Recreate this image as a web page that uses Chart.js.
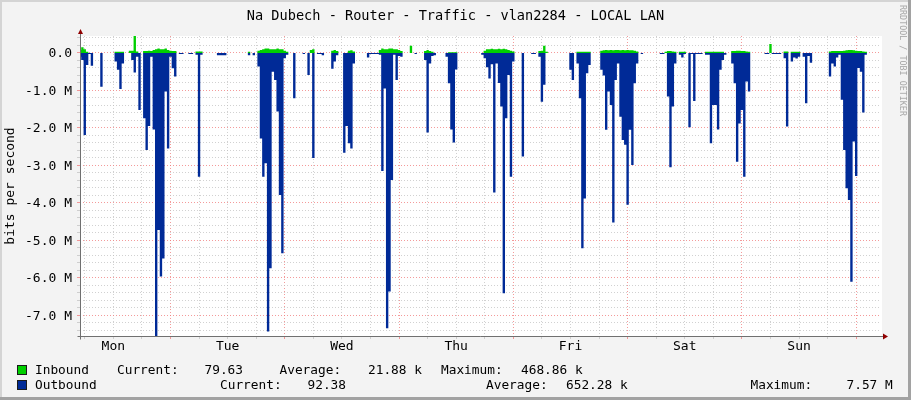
<!DOCTYPE html>
<html>
<head>
<meta charset="utf-8">
<title>Na Dubech - Router - Traffic - vlan2284</title>
<script src="https://cdn.jsdelivr.net/npm/chart.js@4.4.0/dist/chart.umd.min.js"></script>
<style>
  html, body { margin: 0; padding: 0; background: #f3f3f3; }
  #wrap { position: relative; width: 911px; height: 400px; overflow: hidden;
          font-family: 'DejaVu Sans Mono', monospace; }
  #chart { position: absolute; left: 0; top: 0; }
  #title { position: absolute; left: 0; top: 6.6px; width: 911px; text-align: center;
           font-size: 13.6px; line-height: 16px; color: #000; white-space: pre; }
  .lg { position: absolute; font-size: 12.8px; line-height: 15px; color: #000; white-space: pre; }
  .sw { position: absolute; width: 8px; height: 8px; border: 1px solid #1a1a1a; }
  #mark { position: absolute; left: 908px; top: 5px; transform-origin: 0 0; transform: rotate(90deg);
          font-size: 8.4px; line-height: 10px; color: #a6a6a6; white-space: pre; }
  .edge { position: absolute; }
</style>
</head>
<body>
<div id="wrap">
  <canvas id="chart" width="911" height="400"></canvas>
  <div id="title"></div>
  <div id="legend"></div>
  <div id="mark">RRDTOOL / TOBI OETIKER</div>
  <div class="edge" style="left:0;top:0;width:911px;height:2px;background:#d4d4d4"></div>
  <div class="edge" style="left:0;top:0;width:2px;height:400px;background:#d4d4d4"></div>
  <div class="edge" style="left:0;top:397px;width:911px;height:3px;background:#a2a2a2"></div>
  <div class="edge" style="left:908px;top:0;width:3px;height:400px;background:#a2a2a2"></div>
</div>
<script>
// text
const chartTitle = 'Na Dubech - Router - Traffic - vlan2284 - LOCAL LAN';
const yAxisTitle = 'bits per second';
const dayLabels = ['Mon', 'Tue', 'Wed', 'Thu', 'Fri', 'Sat', 'Sun'];
const seriesNames = ['Inbound', 'Outbound'];
const seriesColors = ['#00CF00', '#002A97'];

// legend figures: current, average, maximum
const inboundStats = ['79.63', '21.88 k', '468.86 k'];
const outboundStats = ['92.38', '652.28 k', '7.57 M'];

// time axis, hours after Monday 00:00
const startHour = 5;     // first sample
const stepHours = 0.5;   // one sample every 30 minutes
const xMin = 5, xMax = 173;
const xGridStep = 6;     // grid every 6 h, red line at midnight, label at noon

// value axis, Mbit/s (outbound is mirrored below zero)
const yMin = -7.5467, yMax = 0.4533;
const yGridStep = 0.2;   // grid every 0.2 M, red line and label every 1 M

// samples in Mbit/s, 12 per row = 6 hours
const inbound = [
  0.08, 0.15, 0.1, 0.03, 0, 0, 0, 0, 0, 0, 0, 0,
  0, 0, 0, 0.03, 0.03, 0.03, 0.03, 0, 0, 0.06, 0.06, 0.46,
  0.04, 0, 0, 0.05, 0.05, 0.06, 0.05, 0.08, 0.1, 0.12, 0.1, 0.1,
  0.12, 0.08, 0.06, 0.05, 0.05, 0, 0, 0, 0, 0, 0, 0,
  0, 0.04, 0.04, 0.04, 0, 0, 0, 0, 0, 0, 0, 0,
  0, 0, 0, 0, 0, 0, 0, 0, 0, 0, 0, 0.03,
  0, 0, 0, 0.06, 0.08, 0.1, 0.12, 0.12, 0.1, 0.1, 0.1, 0.12,
  0.1, 0.1, 0.06, 0.03, 0, 0, 0, 0, 0, 0, 0, 0,
  0, 0.08, 0.1, 0, 0, 0, 0, 0, 0, 0, 0.06, 0.08,
  0.05, 0, 0, 0, 0, 0.06, 0.07, 0.04, 0, 0, 0, 0,
  0, 0, 0, 0, 0, 0, 0.08, 0.12, 0.1, 0.1, 0.12, 0.12,
  0.1, 0.1, 0.08, 0.05, 0, 0, 0, 0.19, 0, 0, 0, 0,
  0, 0.05, 0.08, 0.05, 0.03, 0, 0, 0, 0, 0, 0, 0.02,
  0.02, 0.02, 0.02, 0, 0, 0, 0, 0, 0, 0, 0, 0,
  0, 0, 0.06, 0.1, 0.1, 0.11, 0.1, 0.1, 0.11, 0.1, 0.11, 0.1,
  0.08, 0.06, 0.04, 0, 0, 0, 0, 0, 0, 0, 0, 0,
  0, 0.05, 0.06, 0.19, 0.03, 0, 0, 0, 0, 0, 0, 0,
  0, 0, 0, 0, 0, 0.03, 0.03, 0.03, 0.03, 0.03, 0.03, 0,
  0, 0, 0, 0.06, 0.07, 0.08, 0.07, 0.08, 0.07, 0.08, 0.08, 0.07,
  0.08, 0.07, 0.08, 0.07, 0.07, 0.06, 0.04, 0, 0, 0, 0, 0,
  0, 0, 0, 0, 0, 0, 0.03, 0.05, 0.05, 0.04, 0.03, 0,
  0.03, 0.03, 0.03, 0, 0, 0, 0, 0, 0, 0, 0, 0.03,
  0.03, 0.03, 0.03, 0.03, 0.03, 0.03, 0.03, 0, 0, 0, 0.05, 0.05,
  0.06, 0.06, 0.05, 0.05, 0.04, 0.03, 0, 0, 0, 0, 0, 0,
  0, 0, 0.24, 0, 0, 0, 0, 0, 0.04, 0.04, 0, 0.03,
  0.03, 0.03, 0.03, 0, 0, 0, 0, 0, 0, 0, 0, 0,
  0, 0, 0, 0.04, 0.05, 0.05, 0.05, 0.05, 0.05, 0.06, 0.07, 0.08,
  0.08, 0.07, 0.06, 0.05, 0.05, 0.04, 0.03, 0, 0, 0, 0, 0
];

const outbound = [
  0.1, 0.19, 2.19, 0.32, 0.03, 0.34, 0, 0, 0, 0.9, 0, 0,
  0, 0, 0, 0.23, 0.45, 0.96, 0.28, 0, 0, 0, 0.19, 0.52,
  0.1, 1.52, 0, 1.74, 2.59, 1.95, 0.1, 2.04, 7.55, 4.72, 5.96, 5.48,
  1.03, 2.55, 0.1, 0.41, 0.63, 0, 0.03, 0.03, 0, 0, 0.03, 0.03,
  0, 0.05, 3.3, 0.05, 0, 0, 0, 0, 0, 0, 0.06, 0.06,
  0.06, 0.06, 0, 0, 0, 0, 0, 0, 0, 0, 0, 0.06,
  0, 0.06, 0, 0.36, 2.28, 3.3, 2.94, 7.43, 5.74, 0.5, 0.72, 1.56,
  3.79, 5.34, 0.14, 0.05, 0, 0, 1.21, 0, 0, 0, 0.03, 0,
  0.59, 0, 2.8, 0, 0.03, 0.03, 0.06, 0, 0, 0, 0.42, 0.23,
  0.06, 0, 0, 2.66, 1.95, 2.41, 2.55, 0.28, 0, 0, 0, 0,
  0, 0.12, 0.03, 0.03, 0.03, 0.03, 0.05, 3.15, 0.95, 7.34, 6.36, 3.39,
  0.05, 0.72, 0.08, 0.1, 0, 0, 0, 0, 0, 0.03, 0, 0,
  0, 0.19, 2.12, 0.28, 0.08, 0.06, 0, 0, 0, 0, 0.1, 0.81,
  2.04, 2.39, 0.44, 0, 0, 0, 0, 0, 0, 0, 0, 0,
  0, 0.05, 0.14, 0.38, 0.68, 0.3, 3.72, 0.28, 0.8, 1.43, 6.41, 1.74,
  0.59, 3.3, 0.23, 0, 0, 0, 2.76, 0, 0, 0, 0.03, 0.03,
  0, 0.1, 1.3, 0.85, 0, 0, 0, 0, 0, 0, 0, 0,
  0, 0, 0.45, 0.72, 0, 0.28, 1.21, 5.21, 3.88, 0.54, 0.32, 0,
  0, 0, 0, 0.45, 0.6, 2.05, 1.03, 1.39, 4.52, 0.72, 0.28, 1.7,
  2.32, 2.45, 4.05, 2.05, 2.99, 0.81, 0.28, 0, 0.03, 0, 0, 0,
  0, 0, 0, 0, 0.03, 0.03, 0, 1.16, 3.05, 1.43, 0.28, 0,
  0.05, 0.12, 0.03, 0, 1.98, 0.03, 1.28, 0.03, 0.03, 0.03, 0, 0.05,
  0.05, 2.41, 1.39, 1.39, 2.04, 0.45, 0.19, 0.05, 0, 0, 0.28, 0.81,
  2.9, 1.88, 1.52, 3.3, 0.76, 1.03, 0, 0, 0, 0, 0, 0,
  0.03, 0.03, 0, 0.03, 0.03, 0.03, 0.03, 0, 0.14, 1.96, 0, 0.23,
  0.12, 0.15, 0.1, 0, 0.1, 1.34, 0.08, 0.26, 0, 0, 0, 0,
  0, 0, 0, 0.63, 0.28, 0.36, 0.12, 0.05, 1.25, 2.59, 3.61, 3.92,
  6.1, 2.36, 3.28, 0.4, 0.5, 1.59, 0.05, 0, 0, 0, 0, 0
];

const toPoints = (vals, sign) => vals.map((v, i) => ({ x: startHour + i * stepHours, y: sign * v }));

// grid positions inside the axis ranges
const gridValues = (lo, hi, step) => {
  const list = [];
  for (let k = Math.ceil(lo / step); k * step <= hi; k++) list.push(Math.round(k * step * 1000) / 1000);
  return list;
};
const xGrid = gridValues(xMin + 0.01, xMax, xGridStep);
const yGrid = gridValues(yMin, yMax, yGridStep);

const isMajorY = v => Math.abs(v - Math.round(v)) < 1e-6;
const isMajorX = v => v % 24 === 0;
const gridMajor = 'rgba(240, 120, 120, 0.75)';
const gridMinor = 'rgba(190, 190, 190, 0.7)';

// white plot area, axis lines and arrow heads like rrdtool
const rrdFrame = {
  id: 'rrdFrame',
  beforeDraw(chart) {
    const { ctx, chartArea: a } = chart;
    ctx.save();
    ctx.fillStyle = '#ffffff';
    ctx.fillRect(a.left, a.top, a.right - a.left + 2, a.bottom - a.top);
    ctx.restore();
  },
  afterDraw(chart) {
    const { ctx, chartArea: a } = chart;
    const x0 = Math.round(a.left) + 0.5;
    const y0 = Math.round(a.bottom) + 0.5;
    ctx.save();
    ctx.strokeStyle = '#707070';
    ctx.lineWidth = 1;
    ctx.beginPath();
    ctx.moveTo(x0, y0 + 3); ctx.lineTo(x0, a.top - 3);
    ctx.moveTo(x0 - 3, y0); ctx.lineTo(a.right + 4, y0);
    ctx.stroke();
    ctx.fillStyle = '#900000';
    ctx.beginPath();
    ctx.moveTo(x0 - 2.5, a.top - 2); ctx.lineTo(x0 + 2.5, a.top - 2); ctx.lineTo(x0, a.top - 7);
    ctx.closePath(); ctx.fill();
    ctx.beginPath();
    ctx.moveTo(a.right + 3, y0 - 3); ctx.lineTo(a.right + 3, y0 + 3); ctx.lineTo(a.right + 8, y0);
    ctx.closePath(); ctx.fill();
    ctx.restore();
  }
};

Chart.defaults.font.family = "'DejaVu Sans Mono', monospace";
Chart.defaults.color = '#000';

document.getElementById('title').textContent = chartTitle;

const ctx = document.getElementById('chart').getContext('2d');
new Chart(ctx, {
  type: 'line',
  data: {
    datasets: [
      {
        label: seriesNames[0],
        data: toPoints(inbound, 1),
        backgroundColor: seriesColors[0],
        borderWidth: 0,
        pointRadius: 0,
        stepped: 'middle',
        fill: 'origin',
      },
      {
        label: seriesNames[1],
        data: toPoints(outbound, -1),
        backgroundColor: seriesColors[1],
        borderWidth: 0,
        pointRadius: 0,
        stepped: 'middle',
        fill: 'origin',
      },
    ],
  },
  options: {
    responsive: false,
    animation: false,
    devicePixelRatio: 1,
    layout: { padding: { left: 0, right: 31, top: 36, bottom: 42 } },
    plugins: {
      legend: { display: false },
      tooltip: { enabled: false },
    },
    scales: {
      x: {
        type: 'linear',
        min: xMin,
        max: xMax,
        afterBuildTicks: s => { s.ticks = xGrid.map(v => ({ value: v })); },
        afterFit: s => { s.height = 22; },
        grid: { color: c => isMajorX(c.tick.value) ? gridMajor : gridMinor, tickLength: 3 },
        border: { display: false, dash: [1, 2] },
        ticks: {
          autoSkip: false,
          maxRotation: 0,
          padding: 0,
          font: { size: 13 },
          callback: v => (v % 24 === 12 ? dayLabels[(v - 12) / 24] : ''),
        },
      },
      y: {
        type: 'linear',
        min: yMin,
        max: yMax,
        afterBuildTicks: s => { s.ticks = yGrid.map(v => ({ value: v })); },
        afterFit: s => { s.width = 80; },
        grid: { color: c => isMajorY(c.tick.value) ? gridMajor : gridMinor, tickLength: 3 },
        border: { display: false, dash: [1, 2] },
        title: {
          display: true,
          text: yAxisTitle,
          color: '#000',
          font: { size: 13 },
          padding: { top: 3, bottom: 0 },
        },
        ticks: {
          autoSkip: false,
          padding: 5,
          labelOffset: 1,
          font: { size: 13 },
          callback: v => {
            if (!isMajorY(v)) return '';
            const m = Math.round(v);
            return m === 0 ? '0.0' : m.toFixed(1) + ' M';
          },
        },
      },
    },
  },
  plugins: [rrdFrame],
});

// rrdtool style legend below the graph
const legendRows = [
  { name: seriesNames[0], color: seriesColors[0], stats: inboundStats, top: 361.6, box: 364.5,
    xs: [35, 117, 204.5, 279.5, 368, 441, 521] },
  { name: seriesNames[1], color: seriesColors[1], stats: outboundStats, top: 376.8, box: 379.5,
    xs: [35, 220, 307.5, 486, 566, 750.5, 846.5] },
];
const legend = document.getElementById('legend');
legendRows.forEach(r => {
  const sw = document.createElement('div');
  sw.className = 'sw';
  sw.style.left = '17px';
  sw.style.top = r.box + 'px';
  sw.style.background = r.color;
  legend.appendChild(sw);
  const parts = [r.name, 'Current:', r.stats[0], 'Average:', r.stats[1], 'Maximum:', r.stats[2]];
  parts.forEach((t, i) => {
    const el = document.createElement('div');
    el.className = 'lg';
    el.textContent = t;
    el.style.left = r.xs[i] + 'px';
    el.style.top = r.top + 'px';
    legend.appendChild(el);
  });
});
</script>
</body>
</html>
